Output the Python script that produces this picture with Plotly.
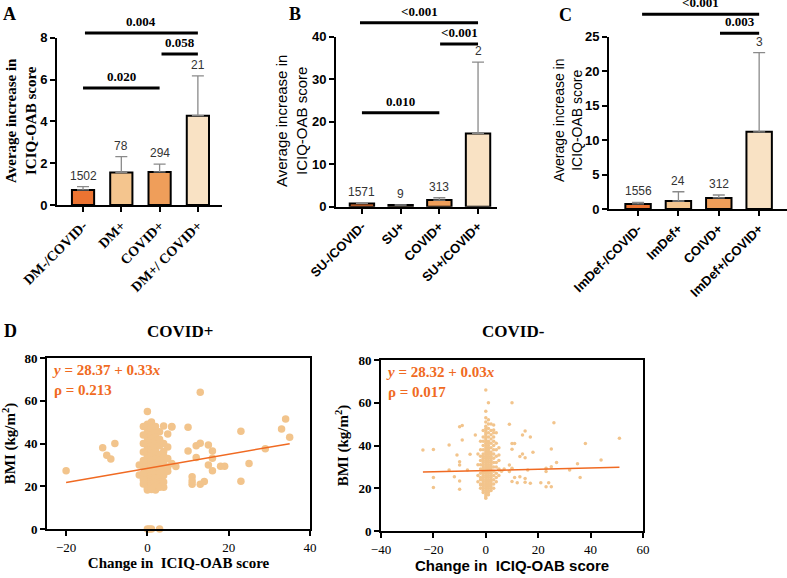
import plotly.graph_objects as go

W, H = 787, 578
SERIF = 'Liberation Serif'
SANS = 'Liberation Sans'

# ---- bar panels ----
bar_colors = ['#EC7432', '#F4C58E', '#EF9E5A', '#F9E2C4']

a_groups = ['DM-/COVID-', 'DM+', 'COVID+', 'DM+/ COVID+']
a_mean = [0.72, 1.55, 1.58, 4.27]
a_upper = [0.88, 2.31, 1.95, 6.17]
a_n = ['1502', '78', '294', '21']
a_sig = [(0, 2, 5.6, '0.020'), (2.05, 3, 7.22, '0.058'), (0.05, 3, 8.23, '0.004')]

b_groups = ['SU-/COVID-', 'SU+', 'COVID+', 'SU+/COVID+']
b_mean = [0.78, 0.4, 1.57, 17.25]
b_upper = [0.95, 0.4, 2.1, 34.0]
b_n = ['1571', '9', '313', '2']
b_sig = [(0, 2, 22.1, '0.010'), (2.02, 3, 38.3, '<0.001'), (-0.05, 3, 43.3, '<0.001')]

c_groups = ['ImDef-/COVID-', 'ImDef+', 'COIVD+', 'ImDef+/COVID+']
c_mean = [0.73, 1.16, 1.6, 11.2]
c_upper = [0.97, 2.5, 2.03, 22.7]
c_n = ['1556', '24', '312', '3']
c_sig = [(2.03, 3, 25.5, '0.003'), (0.1, 3, 28.25, '<0.001')]

# ---- scatter panels (change in ICIQ-OAB score, BMI) ----
pos_pts = [
    (-20, 27.3), (-11, 38), (-8, 40), (-10, 34.5), (-9, 32.8), (13, 64), (0, 55), (10, 47.6),
    (4, 48.2), (6, 47.7), (5, 44.5), (3, 45.5), (23, 45.7), (34, 51.5), (33, 46.8), (35, 42.9),
    (29, 37.6), (25, 30.6), (23, 22.3), (10, 36.5), (12, 39), (13, 40.1), (15, 39.3), (16, 36.5),
    (12, 33.4), (16, 33.1), (15, 30), (16, 27.3), (18, 29.3), (19, 29.3), (11, 24.5), (11, 22.5),
    (11, 20.9), (13, 20.9), (14, 22.2), (6, 30.7), (7, 29.2), (5, 38.4), (4, 36.2), (4, 19.5),
    (2, 18.3), (0, 18.3), (-2, 25.3), (0, 0), (0.5, 0), (1, 0), (3, 0),
    (0, 49), (0, 47), (0, 45), (0, 43), (0, 41), (0, 40), (0, 38), (0, 37), (0, 35), (0, 34),
    (0, 33), (0, 31), (0, 30), (0, 29), (0, 28), (0, 27), (0, 26), (0, 25), (0, 24), (0, 23),
    (0, 22), (0, 21), (0, 20), (0, 19),
    (-1, 48), (-1, 44), (-1, 40), (-1, 36), (-1, 32), (-1, 29), (-1, 26), (-1, 23), (-1, 21),
    (1, 50), (1, 47), (1, 44), (1, 42), (1, 40), (1, 39), (1, 37), (1, 35), (1, 34), (1, 32),
    (1, 30), (1, 29), (1, 28), (1, 27), (1, 25), (1, 24), (1, 23), (1, 22), (1, 21), (1, 20),
    (1, 18.5),
    (2, 48), (2, 45), (2, 43), (2, 41), (2, 38), (2, 36), (2, 33), (2, 31), (2, 29), (2, 27),
    (2, 26), (2, 24), (2, 22), (2, 20),
    (3, 42), (3, 39), (3, 35), (3, 32), (3, 30), (3, 28), (3, 26), (3, 24), (3, 22), (3, 21),
    (3, 19.5),
    (4, 40), (4, 34), (4, 31), (4, 28), (4, 25), (4, 22),
    (5, 33), (5, 29), (5, 27), (-2, 30), (6, 48),
]
neg_pts = [
    (-24, 37.9), (-20, 38.1), (-20, 25), (-20, 20.3), (-14, 40.2), (-10, 48.8), (-9, 49.3),
    (-9, 42.6), (-11, 35.6), (-10, 32.4), (-10, 30.9), (-12, 25.4), (-10, 23.4), (-10, 19.5),
    (-6, 35.9), (-7, 28.5), (-14, 28.5), (-4, 44.9), (0, 66), (1, 60), (10, 60), (9, 49.9),
    (26, 50.7), (15, 46.8), (14, 44.9), (17, 44), (10, 40.9), (11, 40.9), (10, 38.2), (14, 36),
    (15, 34.3), (18, 36.8), (13, 34.8), (25, 38.4), (38, 40.9), (51, 43.4), (44, 33.2), (35, 31.5),
    (27, 32), (25, 30.1), (23, 29.3), (23, 27.8), (36, 25), (21, 22.6), (23, 20.7), (25, 20.7),
    (24, 22.6), (17, 22.3), (15, 22.8), (12, 22.6), (10, 23.1), (11, 25), (13, 25.4), (15, 24.6),
    (16, 28.5), (9, 30.9), (10, 29.3), (9, 27.8), (5, 28.5), (5, 35.6), (3, 49.6), (3, 47.3),
    (32, 28.5), (-2, 27), (-2, 21.5),
    (0, 56), (0, 53), (0, 51), (0, 49), (0, 48), (0, 47), (0, 46), (0, 45), (0, 44), (0, 43),
    (0, 42), (0, 41), (0, 40), (0, 39), (0, 38), (0, 37), (0, 36), (0, 35), (0, 34), (0, 33),
    (0, 32), (0, 31), (0, 30), (0, 29), (0, 28), (0, 27), (0, 26), (0, 25), (0, 24), (0, 23),
    (0, 22), (0, 21), (0, 20), (0, 19), (0, 18), (0, 17), (0, 16), (0, 15.3),
    (1, 52), (1, 50), (1, 48), (1, 46), (1, 44), (1, 42), (1, 41), (1, 40), (1, 39), (1, 38),
    (1, 37), (1, 36), (1, 35), (1, 34), (1, 33), (1, 32), (1, 31), (1, 30), (1, 29), (1, 28),
    (1, 27), (1, 26), (1, 25), (1, 24), (1, 23), (1, 22), (1, 21), (1, 20), (1, 19), (1, 18),
    (1, 17),
    (-1, 47), (-1, 44), (-1, 42), (-1, 40), (-1, 38), (-1, 36), (-1, 35), (-1, 34), (-1, 33),
    (-1, 32), (-1, 31), (-1, 30), (-1, 29), (-1, 28), (-1, 27), (-1, 26), (-1, 25), (-1, 24),
    (-1, 23), (-1, 22), (-1, 21), (-1, 20), (-1, 19), (-1, 18),
    (2, 50), (2, 47), (2, 45), (2, 43), (2, 41), (2, 39), (2, 37), (2, 36), (2, 35), (2, 34),
    (2, 33), (2, 32), (2, 31), (2, 30), (2, 29), (2, 28), (2, 27), (2, 26), (2, 25), (2, 24),
    (2, 23), (2, 22), (2, 21), (2, 20), (2, 19),
    (-2, 42), (-2, 38), (-2, 35), (-2, 33), (-2, 31), (-2, 29), (-2, 25), (-2, 24), (-2, 22),
    (-2, 20),
    (3, 46), (3, 44), (3, 42), (3, 40), (3, 38), (3, 36), (3, 34), (3, 32), (3, 30), (3, 28),
    (3, 26), (3, 24), (3, 22), (3, 20),
    (4, 46), (4, 41), (4, 38), (4, 35), (4, 32), (4, 30), (4, 27), (4, 25), (4, 23),
    (5, 39), (5, 33), (5, 29), (5, 26), (-3, 36), (-3, 31), (-3, 26), (-3, 23), (6, 28), (7, 29),
]
pos_fit = (28.37, 0.33, -20, 35)   # intercept, slope, x from, x to
neg_fit = (28.32, 0.03, -24, 51)

scatter_color = '#F2C48C'
fit_color = '#F06A22'

fig = go.Figure()
layout = dict(width=W, height=H, margin=dict(l=0, r=0, t=0, b=0),
              plot_bgcolor='white', paper_bgcolor='white', showlegend=False)
shapes, annos = [], []


def dom(v, rng):
    return (v - rng[0]) / (rng[1] - rng[0])


def px_dom(a, b, total, flip=False):
    if flip:
        return [1 - b / total, 1 - a / total]
    return [a / total, b / total]


def paper_text(text, x, y, font, angle=0):
    # centred text placed by picture pixels
    annos.append(dict(xref='paper', yref='paper', x=x / W, y=1 - y / H, text=text,
                      xanchor='center', yanchor='middle', textangle=angle,
                      showarrow=False, font=font))


def bar_panel(k, groups, mean, upper, n, sig, xr, yr, xpx, ypx, dtick, width, tickfont):
    xs = 'x' if k == 1 else 'x%d' % k
    ys = 'y' if k == 1 else 'y%d' % k
    idx = list(range(len(groups)))
    fig.add_trace(go.Bar(
        x=idx, y=mean, width=width, xaxis=xs, yaxis=ys,
        marker=dict(color=bar_colors, line=dict(color='black', width=2)),
        error_y=dict(type='data', symmetric=False,
                     array=[u - m for u, m in zip(upper, mean)],
                     arrayminus=[0] * len(mean),
                     color='#8a8a8a', thickness=1.3, width=6)))
    for i in idx:
        annos.append(dict(x=i, y=upper[i], xref=xs, yref=ys, text=n[i], showarrow=False,
                          xanchor='center', yanchor='bottom', yshift=2,
                          font=dict(family=SANS, size=12, color='#333')))
    for x0, x1, yv, lab in sig:
        shapes.append(dict(type='line', xref=xs + ' domain', yref=ys + ' domain',
                           x0=dom(x0, xr), x1=dom(x1, xr), y0=dom(yv, yr), y1=dom(yv, yr),
                           line=dict(color='black', width=3)))
        annos.append(dict(xref=xs + ' domain', yref=ys + ' domain', x=dom((x0 + x1) / 2, xr),
                          y=dom(yv, yr), text='<b>%s</b>' % lab, showarrow=False,
                          xanchor='center', yanchor='bottom', yshift=2,
                          font=dict(family=SERIF, size=13, color='black')))
    ax = dict(domain=px_dom(*xpx, W), range=xr, tickvals=idx, automargin=False,
              ticktext=['<b>%s</b>' % g for g in groups], tickangle=-45,
              showline=True, linecolor='black', linewidth=2, ticks='outside', ticklen=5,
              tickwidth=1.5, tickcolor='black', showgrid=False, zeroline=False,
              tickfont=tickfont, anchor=ys)
    ay = dict(domain=px_dom(*ypx, H, flip=True), range=yr, dtick=dtick, automargin=False,
              showline=True, linecolor='black', linewidth=2, ticks='outside', ticklen=5,
              tickwidth=2, tickcolor='black', showgrid=False, zeroline=False,
              tickfont=dict(family=SANS, size=13, color='black'), anchor=xs,
              tickprefix='<b>', ticksuffix='</b>')
    layout['xaxis' if k == 1 else 'xaxis%d' % k] = ax
    layout['yaxis' if k == 1 else 'yaxis%d' % k] = ay


bar_panel(1, a_groups, a_mean, a_upper, a_n, a_sig, [-0.68, 3.63], [0, 8], (57, 222), (37.7, 205), 2,
          0.58, dict(family=SERIF, size=14, color='black'))
bar_panel(2, b_groups, b_mean, b_upper, b_n, b_sig, [-0.67, 3.49], [0, 40], (336, 497), (36.7, 206.7), 10,
          0.63, dict(family=SANS, size=13, color='black'))
bar_panel(3, c_groups, c_mean, c_upper, c_n, c_sig, [-0.72, 3.69], [0, 25], (609, 787), (36.7, 209), 5,
          0.63, dict(family=SANS, size=13, color='black'))

# y titles of bar panels
paper_text('<b>Average increase in<br>ICIQ-OAB score</b>', 21, 121,
           dict(family=SERIF, size=15, color='black'), -90)
paper_text('Average increase in<br>ICIQ-OAB score', 291, 121,
           dict(family=SANS, size=15, color='black'), -90)
paper_text('Average increase in<br>ICIQ-OAB score', 568, 121,
           dict(family=SANS, size=14, color='black'), -90)


def scatter_panel(k, pts, fit, msize, xr, xt, xpx, ypx, title, title_x, xtitle_font, eq, rho):
    xs, ys = 'x%d' % k, 'y%d' % k
    fig.add_trace(go.Scatter(x=[p[0] for p in pts], y=[p[1] for p in pts], mode='markers',
                             xaxis=xs, yaxis=ys, cliponaxis=False,
                             marker=dict(color=scatter_color, size=msize, line=dict(width=0))))
    b0, b1, xa, xb = fit
    fig.add_trace(go.Scatter(x=[xa, xb], y=[b0 + b1 * xa, b0 + b1 * xb], mode='lines',
                             xaxis=xs, yaxis=ys, line=dict(color=fit_color, width=1.5)))
    layout['xaxis%d' % k] = dict(domain=px_dom(*xpx, W), range=xr, tickvals=xt, automargin=False,
                                 showline=True, mirror=True, linecolor='black', linewidth=2,
                                 ticks='outside', ticklen=5, tickwidth=2, tickcolor='black',
                                 showgrid=False, zeroline=False, anchor=ys,
                                 tickfont=dict(family=SERIF, size=13, color='black'),
                                 tickprefix='<b>', ticksuffix='</b>',
                                 title=dict(text='<b>Change in  ICIQ-OAB score</b>', font=xtitle_font,
                                            standoff=4))
    layout['yaxis%d' % k] = dict(domain=px_dom(*ypx, H, flip=True), range=[0, 80], dtick=20,
                                 automargin=False,
                                 showline=True, mirror=True, linecolor='black', linewidth=2,
                                 ticks='outside', ticklen=5, tickwidth=2, tickcolor='black',
                                 showgrid=False, zeroline=False, anchor=xs,
                                 tickfont=dict(family=SERIF, size=13, color='black'),
                                 tickprefix='<b>', ticksuffix='</b>',
                                 title=dict(text='<b>BMI (kg/m<sup>2</sup>)</b>',
                                            font=dict(family=SERIF, size=15, color='black'),
                                            standoff=6))
    paper_text('<b>%s</b>' % title, title_x, 331, dict(family=SERIF, size=17, color='black'))
    annos.append(dict(xref=xs + ' domain', yref=ys + ' domain', x=0.01, y=0.99, xanchor='left',
                      yanchor='top', align='left', showarrow=False,
                      text='<b>%s<br>ρ = %s</b>' % (eq, rho),
                      font=dict(family=SERIF, size=15, color=fit_color)))


scatter_panel(4, pos_pts, pos_fit, 7.5, [-24.7, 40], [-20, 0, 20, 40], (47, 310), (358, 529),
              'COVID+', 180, dict(family=SERIF, size=15, color='black'),
              '<i>y</i> = 28.37 + 0.33<i>x</i>', '0.213')
scatter_panel(5, neg_pts, neg_fit, 3.5, [-40, 60], [-40, -20, 0, 20, 40, 60], (381, 643), (360, 531),
              'COVID-', 513, dict(family=SANS, size=15, color='black'),
              '<i>y</i> = 28.32 + 0.03<i>x</i>', '0.017')

# panel letters
for lab, lx, ly in [('A', 9, 14), ('B', 295, 14), ('C', 565, 15), ('D', 10, 331)]:
    paper_text('<b>%s</b>' % lab, lx, ly, dict(family=SERIF, size=18, color='black'))

layout['shapes'] = shapes
layout['annotations'] = annos
fig.update_layout(**layout)
fig.write_html('out.html', config={'displayModeBar': False},
               post_script="document.body.style.margin='0';")
